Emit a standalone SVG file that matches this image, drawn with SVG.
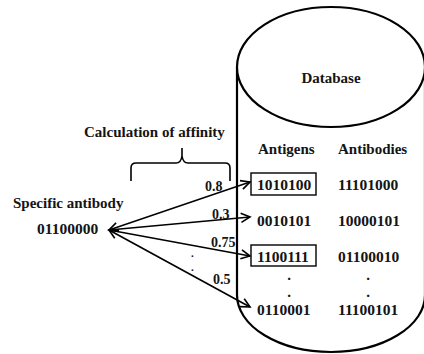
<svg xmlns="http://www.w3.org/2000/svg" width="424" height="354" viewBox="0 0 424 354">
<style>
text{font-family:"Liberation Serif","Times New Roman",serif;font-weight:bold;font-size:15px;fill:#141414}
.num{font-size:15.5px}
.lbl{font-size:14px}
.dot{font-size:11px}
.ln{stroke:#000;stroke-width:1.6;fill:none}
.cyl{stroke:#000;stroke-width:2.2;fill:#fff}
</style>
<defs>
<marker id="ah" markerWidth="12" markerHeight="12" refX="10" refY="5" orient="auto-start-reverse" markerUnits="userSpaceOnUse" viewBox="0 0 12 10">
<polyline points="1,0.5 10,5 1,9.5" fill="none" stroke="#000" stroke-width="1.6"/>
</marker>
</defs>
<g id="database">
<path class="cyl" d="M237,67 L237,295 A94,57 0 0 0 425,295 L425,67"/>
<ellipse class="cyl" cx="331" cy="67" rx="94" ry="60"/>
<text x="331" y="83" text-anchor="middle" font-size="19">Database</text>
<text x="258" y="154">Antigens</text>
<text x="338" y="154">Antibodies</text>
<rect x="251" y="173" width="65" height="22" fill="none" stroke="#000" stroke-width="1.4"/>
<text class="num" x="257" y="190">1010100</text>
<text class="num" x="338" y="190">11101000</text>
<text class="num" x="257" y="226">0010101</text>
<text class="num" x="338" y="226">10000101</text>
<rect x="251" y="245" width="65" height="21" fill="none" stroke="#000" stroke-width="1.4"/>
<text class="num" x="257" y="262">1100111</text>
<text class="num" x="338" y="262">01100010</text>
<text x="289" y="280" text-anchor="middle">.</text>
<text x="289" y="297" text-anchor="middle">.</text>
<text x="368" y="280" text-anchor="middle">.</text>
<text x="368" y="297" text-anchor="middle">.</text>
<text class="num" x="257" y="315">0110001</text>
<text class="num" x="338" y="315">11100101</text>
</g>
<g id="specific">
<text x="13" y="208">Specific antibody</text>
<text class="num" x="37" y="234">01100000</text>
</g>
<g id="affinity">
<text x="84" y="137">Calculation of affinity</text>
<path class="ln" d="M131,181 L131,168 Q131,163 136,163 L176,163 Q181,163 182,156 L182,148 L182,156 Q183,163 188,163 L225,163 Q230,163 230,168 L230,181"/>
<text class="lbl" x="205" y="191">0.8</text>
<text class="lbl" x="212" y="219">0.3</text>
<text class="lbl" x="211" y="247">0.75</text>
<text class="dot" x="191" y="257">.</text>
<text class="dot" x="191" y="271">.</text>
<text class="lbl" x="213" y="284">0.5</text>
</g>
<g id="connectors">
<line class="ln" x1="109" y1="230" x2="250" y2="182" marker-start="url(#ah)" marker-end="url(#ah)"/>
<line class="ln" x1="109" y1="230" x2="250" y2="217" marker-end="url(#ah)"/>
<line class="ln" x1="109" y1="230" x2="250" y2="256" marker-end="url(#ah)"/>
<line class="ln" x1="109" y1="230" x2="250" y2="307" marker-start="url(#ah)" marker-end="url(#ah)"/>
</g>
</svg>
